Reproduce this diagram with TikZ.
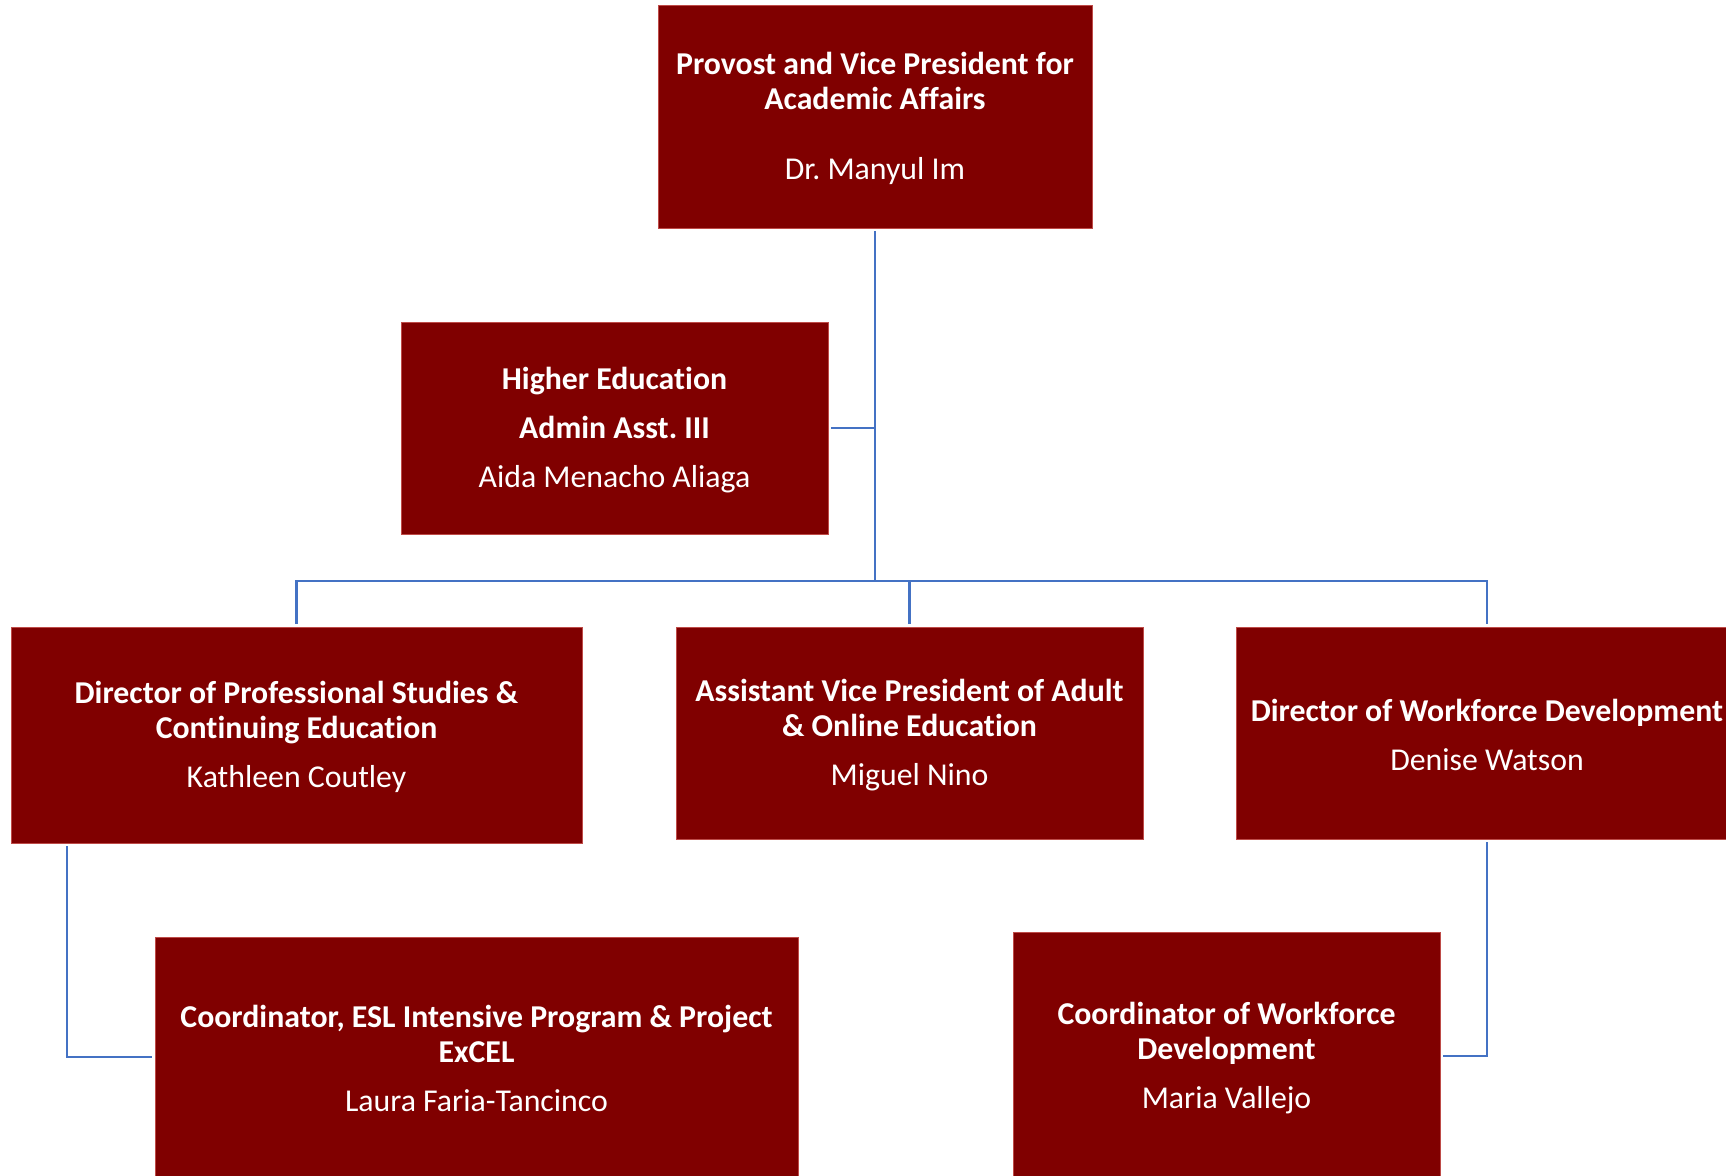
\documentclass[tikz,border=0pt]{standalone}
\usepackage{fontspec}
\setmainfont[Ligatures=NoCommon]{Carlito}
\usepackage{tikz}
\usetikzlibrary{
  positioning,
  calc
}
\definecolor{BoxRed}{RGB}{128,0,0}
\definecolor{EdgeRed}{RGB}{190,75,72}
\definecolor{LinkBlue}{RGB}{68,114,196}
\newcommand\lift{\rule{0pt}{25.5pt}}
\frenchspacing
\tikzset{
  rolebox/.style={draw=EdgeRed,fill=BoxRed,line width=0.8pt,text=white,align=center,inner sep=0pt,outer sep=3pt,
    font=\fontsize{31.8}{35}\selectfont},
  link/.style={draw=LinkBlue,line width=2.6pt}
}

\begin{document}
\begin{tikzpicture}[x=1pt,y=-1pt]
\useasboundingbox (0,0) rectangle (1726,1175);
\clip (0,0) rectangle (1726,1175);

\node[rolebox,minimum width=434pt,minimum height=223pt] (provost) at (875,116.5)
  {\lift\textbf{Provost and Vice President for}\\\textbf{Academic Affairs}\\[35pt]Dr. Manyul Im};
\node[rolebox,minimum width=427pt,minimum height=212pt] (admin) at (614.5,428)
  {\lift\textbf{Higher Education}\\[14pt]\textbf{Admin Asst. III}\\[14pt]Aida Menacho Aliaga};

\node[rolebox,minimum width=571pt,minimum height=216pt] (profst) at (296.5,735)
  {\lift\textbf{Director of Professional Studies \&}\\\textbf{Continuing Education}\\[14pt]Kathleen Coutley};
\node[rolebox,minimum width=467pt,minimum height=212pt] (adult) at (909.5,733)
  {\lift\textbf{Assistant Vice President of Adult}\\\textbf{\& Online Education}\\[14pt]Miguel Nino};
\node[rolebox,minimum width=502pt,minimum height=212pt] (wfdir) at (1487,733)
  {\lift\textbf{Director of Workforce Development}\\[14pt]Denise Watson};

\node[rolebox,minimum width=643pt,minimum height=240pt] (esl) at (476.5,1057)
  {\lift\textbf{Coordinator, ESL Intensive Program \& Project}\\\textbf{ExCEL}\\[14pt]Laura Faria-Tancinco};
\node[rolebox,minimum width=427pt,minimum height=248pt] (wfcoord) at (1226.5,1056)
  {\lift\textbf{Coordinator of Workforce}\\\textbf{Development}\\[14pt]Maria Vallejo};

% reporting lines
\coordinate (bus) at (875,581);
\draw[link] (provost.south) -- (bus);
\draw[link] (admin.east) -- (admin.east -| provost.south);
\draw[link] (profst.north) |- (bus) -| (wfdir.north);
\draw[link] (adult.north) -- (adult.north |- bus);
\draw[link] ([xshift=59pt]profst.south west) |- (esl.west);
\draw[link] (wfdir.south) |- (wfcoord.east);
\end{tikzpicture}
\end{document}
